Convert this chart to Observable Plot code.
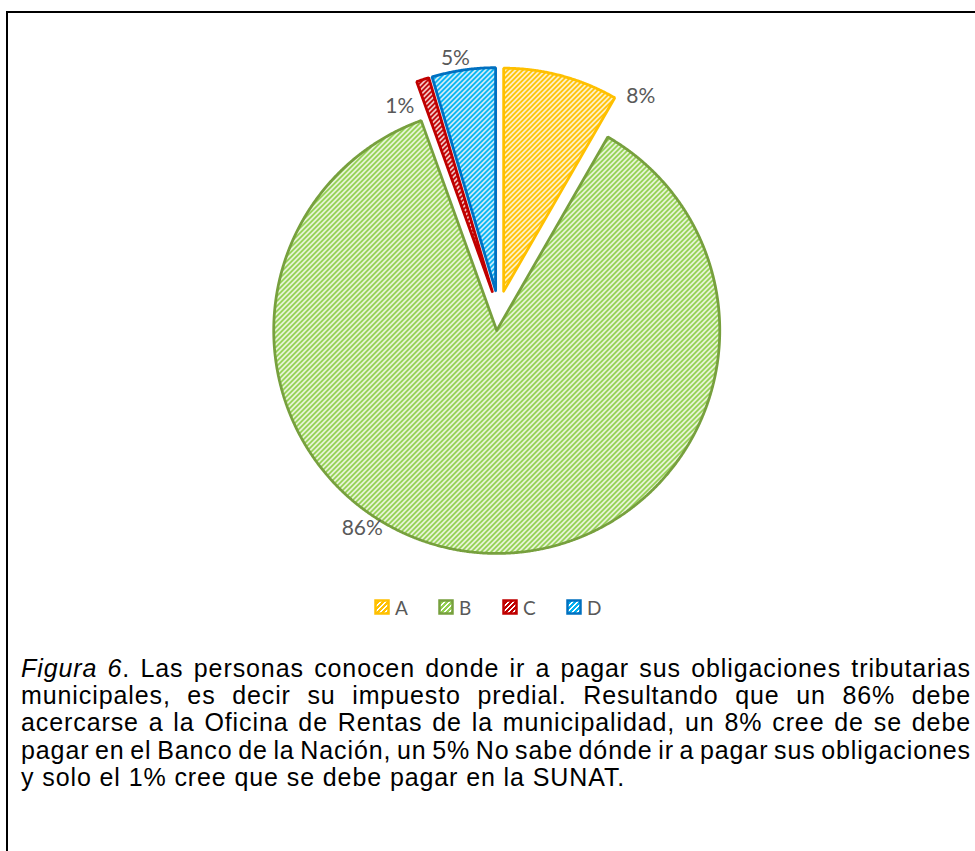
<!DOCTYPE html>
<html>
<head>
<meta charset="utf-8">
<script src="https://cdn.jsdelivr.net/npm/d3@7"></script>
<script src="https://cdn.jsdelivr.net/npm/@observablehq/plot@0.6"></script>
<style>
  html, body { margin: 0; padding: 0; background: #fff; }
  #page { position: relative; width: 975px; height: 851px; overflow: hidden; background: #fff; }
  .bt { position: absolute; left: 6px; top: 11px; width: 969px; height: 2px; background: #000; }
  .bl { position: absolute; left: 6px; top: 11px; width: 2px; height: 840px; background: #000; }
  #chart { position: absolute; left: 0; top: 0; }
  #legend { position: absolute; left: 374px; top: 595px; height: 24px; display: flex; align-items: center; font-family: Lato, "Open Sans", sans-serif; font-size: 19px; color: #595959; }
  .item { display: flex; align-items: center; width: 64px; }
  .item svg { margin-right: 5px; }
  #caption { position: absolute; left: 21px; top: 655px; width: 950px; font-family: "Liberation Sans", Arial, sans-serif; font-size: 25px; line-height: 27.2px; letter-spacing: 0.9px; color: #000; }
  .ln { white-space: nowrap; height: 27.2px; }
  .ln span { display: inline-block; }
</style>
</head>
<body>
<div id="page">
  <div id="chart"></div>
  <div id="legend"></div>
  <div id="caption"></div>
  <div class="bt"></div>
  <div class="bl"></div>
</div>
<script>
// ---- data ----
const categories = ["A", "B", "C", "D"];
const values = [8.3, 86.2, 0.9, 4.6];
const valueLabels = ["8%", "86%", "1%", "5%"];

// ---- styles / layout ----
const stripeColors = ["#FFC000", "#92D050", "#C00000", "#00B0F0"];
const edgeColors = ["#FFC000", "#77A03E", "#C00000", "#0070C0"];
const labelAngle = [35.1, 214.2, 333.5, 350.2]; // degrees, clockwise from 12 o'clock
const labelRadius = [1.07, 1.073, 0.93, 1.06];

const W = 975, H = 590, R = 223, cx = 498, cy = 310, explode = 20 / 223;

const data = categories.map((c, i) => ({category: c, value: values[i], label: valueLabels[i], i}));
const arcs = d3.pie().sort(null).value(d => d.value)(data);

const step = Math.PI / 720;
const slices = arcs.map(a => {
  const mid = (a.startAngle + a.endAngle) / 2;
  const ox = explode * Math.sin(mid), oy = explode * Math.cos(mid);
  const pts = [{x: ox, y: oy}];
  const n = Math.max(2, Math.ceil((a.endAngle - a.startAngle) / step));
  for (let k = 0; k <= n; k++) {
    const t = a.startAngle + (a.endAngle - a.startAngle) * k / n;
    pts.push({x: ox + Math.sin(t), y: oy + Math.cos(t)});
  }
  pts.push({x: ox, y: oy});
  return {d: a.data, ox, oy, pts};
});

const labelPts = slices.map(s => {
  const i = s.d.i;
  const t = labelAngle[i] * Math.PI / 180;
  return {x: s.ox + labelRadius[i] * Math.sin(t), y: s.oy + labelRadius[i] * Math.cos(t), text: s.d.label};
});

const svg = Plot.plot({
  width: W,
  height: H,
  margin: 0,
  x: {domain: [-cx / R, (W - cx) / R], range: [0, W], axis: null},
  y: {domain: [-(H - cy) / R, cy / R], range: [H, 0], axis: null},
  style: {background: "transparent", overflow: "visible"},
  marks: [
    ...slices.map(s => Plot.line(s.pts, {
      x: "x", y: "y",
      fill: `url(#pat-${s.d.category})`,
      stroke: edgeColors[s.d.i],
      strokeWidth: 2.8,
      strokeLinejoin: "miter"
    })),
    Plot.text(labelPts, {x: "x", y: "y", text: "text", fill: "#595959", fontSize: 21, fontFamily: "Lato, 'Open Sans', sans-serif"})
  ]
});

// hatch patterns (wide upward diagonal)
function patternDef(id, color, size, on) {
  let rects = `<rect width="${size}" height="${size}" fill="#fff"/>`;
  for (let x = 0; x < size; x++) for (let y = 0; y < size; y++) {
    if ((x + y) % size < on) rects += `<rect x="${x}" y="${y}" width="1" height="1" fill="${color}"/>`;
  }
  return `<pattern id="${id}" patternUnits="userSpaceOnUse" width="${size}" height="${size}">${rects}</pattern>`;
}
const defs = document.createElementNS("http://www.w3.org/2000/svg", "defs");
defs.innerHTML = categories.map((c, i) => patternDef(`pat-${c}`, stripeColors[i], 5, 3)).join("") +
  categories.map((c, i) => patternDef(`patl-${c}`, stripeColors[i], 5, 3)).join("");
svg.insertBefore(defs, svg.firstChild);
document.getElementById("chart").appendChild(svg);

// legend
const legend = document.getElementById("legend");
categories.forEach((c, i) => {
  const item = document.createElement("div");
  item.className = "item";
  item.innerHTML = `<svg width="16" height="16"><rect x="1.5" y="1.5" width="13" height="13" fill="url(#patl-${c})" stroke="${edgeColors[i]}" stroke-width="2.5"/></svg><span>${c}</span>`;
  legend.appendChild(item);
});

// caption (justified lines)
const captionLines = [
  "<i>Figura 6</i>. Las personas conocen donde ir a pagar sus obligaciones tributarias",
  "municipales, es decir su impuesto predial. Resultando que un 86% debe",
  "acercarse a la Oficina de Rentas de la municipalidad, un 8% cree de se debe",
  "pagar en el Banco de la Nación, un 5% No sabe dónde ir a pagar sus obligaciones",
  "y solo el 1% cree que se debe pagar en la SUNAT."
];
const cap = document.getElementById("caption");
captionLines.forEach((t, k) => {
  const div = document.createElement("div");
  div.className = "ln";
  const span = document.createElement("span");
  span.innerHTML = t;
  div.appendChild(span);
  cap.appendChild(div);
  if (k < captionLines.length - 1) {
    const w = span.getBoundingClientRect().width;
    const spaces = (span.textContent.match(/ /g) || []).length;
    span.style.wordSpacing = ((950 - w) / spaces) + "px";
  }
});
</script>
</body>
</html>
